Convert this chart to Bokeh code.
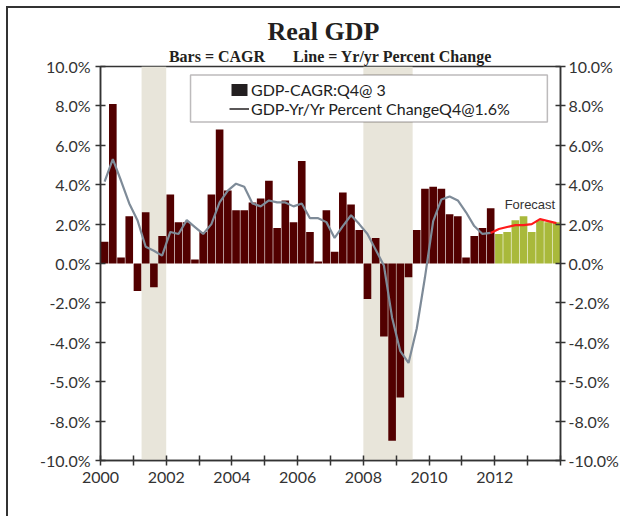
from bokeh.plotting import figure
from bokeh.models import (ColumnDataSource, LinearAxis, FixedTicker, BoxAnnotation,
                          Legend, LegendItem, Label, Title)
from bokeh.embed import file_html
from bokeh.resources import INLINE

# ---------------- data ----------------
start_year = 2000
# Real GDP, CAGR (quarterly, annualised), actual 2000Q1-2011Q4
cagr_actual = [1.1, 8.1, 0.3, 2.4, -1.4, 2.6, -1.2, 1.4, 3.5, 2.1, 2.1, 0.2,
               1.6, 3.5, 6.8, 3.7, 2.7, 2.7, 3.1, 3.3, 4.2, 1.8, 3.2, 2.1,
               5.2, 1.6, 0.1, 2.7, 0.6, 3.6, 3.0, 1.7, -1.8, 1.3, -3.7, -9.0,
               -6.8, -0.7, 1.7, 3.8, 3.9, 3.8, 2.5, 2.4, 0.3, 1.4, 1.8, 2.8]
# forecast 2012Q1-2013Q4
cagr_forecast = [1.5, 1.6, 2.2, 2.4, 1.6, 2.2, 2.1, 2.1]
# Yr/yr percent change, actual
yoy_actual = [4.15, 5.3, 4.2, 3.05, 2.2, 0.85, 0.65, 0.4, 1.6, 1.5, 2.2, 1.85,
              1.5, 2.0, 3.1, 3.7, 4.05, 3.9, 3.05, 2.9, 3.2, 3.1, 3.1, 2.9,
              3.05, 2.3, 2.3, 2.1, 1.3, 1.9, 2.45, 2.0, 1.5, 0.7, -0.1, -2.75,
              -4.45, -5.05, -3.3, -0.7, 2.15, 3.25, 3.4, 3.2, 2.6, 1.9, 1.5, 1.55]
yoy_forecast = [1.75, 1.85, 1.95, 1.95, 2.0, 2.25, 2.15, 2.05]
# recessions (decimal years)
recession_starts = [2001.25, 2008.0]
recession_ends = [2002.0, 2009.5]

y_ticks = [-10, -8, -6, -4, -2, 0, 2, 4, 6, 8, 10]
y_tick_labels = ["-10.0%", "-8.0%", "-5.0%", "-4.0%", "-2.0%", "0.0%",
                 "2.0%", "4.0%", "6.0%", "8.0%", "10.0%"]
x_ticks = list(range(2000, 2015))
x_tick_labels = ["2000", "", "2002", "", "2004", "", "2006", "", "2008", "",
                 "2010", "", "2012", "", ""]

title_text = "Real GDP"
subtitle_text = "Bars = CAGR" + "\u00a0" * 7 + "Line = Yr/yr Percent Change"
legend_bar_label = "GDP-CAGR:Q4@ 3"
legend_line_label = "GDP-Yr/Yr Percent ChangeQ4@1.6%"
forecast_text = "Forecast"

# quarter centres
n_act = len(cagr_actual)
x_act = [start_year + (i + 0.5) / 4 for i in range(n_act)]
x_fc = [start_year + (n_act + i + 0.5) / 4 for i in range(len(cagr_forecast))]

src_act = ColumnDataSource(dict(x=x_act, top=cagr_actual, yoy=yoy_actual))
src_fc = ColumnDataSource(dict(x=x_fc, top=cagr_forecast))
src_fc_line = ColumnDataSource(dict(x=[x_act[-1]] + x_fc,
                                    y=[yoy_actual[-1]] + yoy_forecast))

AX = "#333333"
NAN = float("nan")

p = figure(width=614, height=510, x_range=(2000, 2014), y_range=(-10, 10),
           output_backend="svg", toolbar_location=None,
           min_border_left=92, min_border_right=62,
           min_border_top=58, min_border_bottom=58,
           styles={"margin-left": "6px", "margin-top": "6px",
                   "border-left": "2px solid #333333",
                   "border-top": "2px solid #333333"})
p.grid.visible = False
p.outline_line_color = AX
p.outline_line_width = 1.5
p.background_fill_color = "white"

# recession bands
for s, e in zip(recession_starts, recession_ends):
    p.add_layout(BoxAnnotation(left=s, right=e, fill_color="#e8e5da",
                               fill_alpha=1.0, line_alpha=0, level="underlay"))

p.vbar(x="x", top="top", bottom=0, width=0.232, source=src_act,
       fill_color="#520000", line_color=None)
p.vbar(x="x", top="top", bottom=0, width=0.232, source=src_fc,
       fill_color="#a9b93b", line_color=None)
p.line(x="x", y="yoy", source=src_act, line_color="#7e8b98", line_width=2.2)
p.line(x="x", y="y", source=src_fc_line, line_color="#ff1a1a", line_width=2.2)

# placeholder renderers (NaN, never drawn) for the legend glyphs
dummy_bar = p.vbar(x=[NAN], top=[NAN], width=0.2, fill_color="#231f20", line_color=None)
dummy_line = p.line(x=[NAN, NAN], y=[NAN, NAN], line_color="#231f20", line_width=1.5)

# axes
def style_axis(ax):
    ax.axis_line_color = AX
    ax.axis_line_width = 1.5
    ax.major_tick_line_color = AX
    ax.major_tick_line_width = 1.5
    ax.major_tick_in = 5
    ax.major_tick_out = 5
    ax.minor_tick_line_color = None
    ax.major_label_text_font = "Lato"
    ax.major_label_text_font_size = "16px"
    ax.major_label_text_color = "#333333"

yax = p.yaxis[0]
yax.ticker = FixedTicker(ticks=y_ticks)
yax.major_label_overrides = {t: l for t, l in zip(y_ticks, y_tick_labels)}
style_axis(yax)
yax.major_label_standoff = 5

ryax = LinearAxis(ticker=FixedTicker(ticks=y_ticks),
                  major_label_overrides={t: l for t, l in zip(y_ticks, y_tick_labels)})
style_axis(ryax)
ryax.major_label_standoff = 3
p.add_layout(ryax, "right")

xax = p.xaxis[0]
xax.ticker = FixedTicker(ticks=x_ticks)
xax.major_label_overrides = {t: l for t, l in zip(x_ticks, x_tick_labels)}
style_axis(xax)
xax.major_label_standoff = 6

# legend box + legend
p.add_layout(BoxAnnotation(left=2002.74, right=2013.6, bottom=7.18, top=9.57,
                           fill_color="white", fill_alpha=1.0,
                           line_color="#231f20", line_width=1.5))
legend = Legend(items=[LegendItem(label=legend_bar_label, renderers=[dummy_bar]),
                       LegendItem(label=legend_line_label, renderers=[dummy_line])],
                location=(129, 342), padding=0, margin=0, spacing=0,
                glyph_width=20, glyph_height=15, label_standoff=2,
                label_text_font="Lato", label_text_font_size="16px",
                label_text_color="#222222",
                background_fill_alpha=0, border_line_alpha=0)
p.add_layout(legend, "center")

# forecast label
p.add_layout(Label(x=2012.3, y=3.0, text=forecast_text, text_font="Liberation Sans",
                   text_font_size="13px", text_color="#333333",
                   text_baseline="alphabetic"))

# titles (first added sits closest to the plot)
p.add_layout(Title(text=subtitle_text, align="center", vertical_align="top",
                   standoff=0, text_font="Liberation Serif", text_font_style="bold",
                   text_font_size="16px", text_color="#231f20"), "above")
p.add_layout(Title(text=title_text, align="left", offset=167, vertical_align="bottom",
                   standoff=4, text_font="Liberation Serif", text_font_style="bold",
                   text_font_size="26px", text_color="#231f20"), "above")

open("out.html", "w").write(file_html(p, INLINE))
